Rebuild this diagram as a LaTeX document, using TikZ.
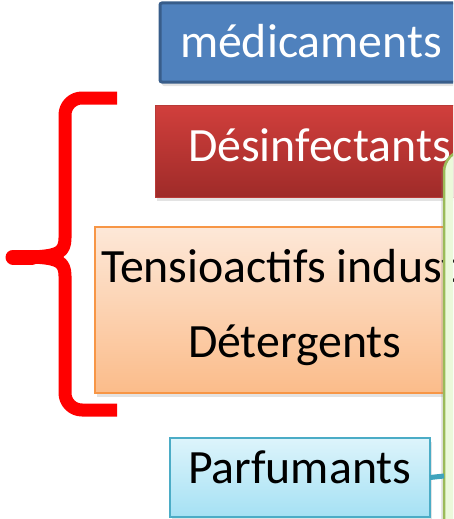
\documentclass[tikz,border=0pt]{standalone}
\usepackage{fontspec}
\setmainfont{Carlito}
\usetikzlibrary{shadows}
\definecolor{medblue}{HTML}{4F81BD}
\definecolor{medborder}{HTML}{385D8A}
\definecolor{redtop}{HTML}{D13F3C}
\definecolor{redbot}{HTML}{9F2B29}
\definecolor{redborder}{HTML}{B83A37}
\definecolor{orgtop}{HTML}{FDE8D8}
\definecolor{orgbot}{HTML}{FBBC8A}
\definecolor{orgborder}{HTML}{F79646}
\definecolor{cyantop}{HTML}{DDF4FB}
\definecolor{cyanbot}{HTML}{A5E1F4}
\definecolor{cyanborder}{HTML}{4BACC6}
\definecolor{connteal}{HTML}{3FA3BC}
\definecolor{grnfill}{HTML}{EBF9DA}
\definecolor{grnborder}{HTML}{9BBB59}
\begin{document}
\begin{tikzpicture}[x=1pt,y=-1pt,
  box/.style={inner sep=0pt, outer sep=0pt, anchor=north west},
  lbl/.style={anchor=base west, inner sep=0pt, outer sep=0pt, font=\fontsize{47.8}{56}\selectfont},
  softshadow/.style={drop shadow={opacity=0.22, shadow xshift=2pt, shadow yshift=-4pt}},
  bracestroke/.style={draw=red, line width=13pt, line cap=butt, line join=round},
  conn/.style={draw=connteal, line width=5pt}]
\useasboundingbox (0,0) rectangle (453,519);
\begin{scope}
\clip (0,0) rectangle (453,519);
% boxes
\node[box, draw=medborder, fill=medblue, line width=3pt, rounded corners=2pt,
      minimum width=320pt, minimum height=79pt, softshadow] (med) at (160,3) {};
\node[lbl, text=white] (medtxt) at (180,57) {médicaments};
\node[box, draw=redborder, top color=redtop, bottom color=redbot, line width=0.8pt,
      minimum width=320pt, minimum height=92pt, softshadow] (des) at (155,105) {};
\node[lbl, text=white] (destxt) at (188,161) {Désinfectants};
\node[box, draw=orgborder, top color=orgtop, bottom color=orgbot, line width=2pt,
      minimum width=350pt, minimum height=166pt, softshadow] (tens) at (95,227) {};
\node[lbl] (tenstxt) at (101,282) {Tensioactifs indust};
\node[lbl] (dettxt) at (188,357) {Détergents};
\node[box, draw=cyanborder, top color=cyantop, bottom color=cyanbot, line width=2pt,
      minimum width=260pt, minimum height=79pt, softshadow] (parf) at (170,438) {};
\node[lbl] (parftxt) at (188,483) {Parfumants};
% green callout
\node[box, draw=grnborder, fill=grnfill, line width=2.5pt, rounded corners=22pt,
      minimum width=120pt, minimum height=420pt,
      drop shadow={opacity=0.2, shadow xshift=-3pt, shadow yshift=-2pt}] (green) at (444,150) {};
\coordinate (gin) at (444,476);
\draw[conn] (parf.east) -- (gin);
% brace
\draw[bracestroke] (117,98) -- (82,98) to[out=180,in=90] (65,115) -- (65,238)
   .. controls (65,252) and (58,255) .. (40,256.5) -- (14,257);
\draw[bracestroke] (117,410) -- (82,410) to[out=180,in=-90] (65,393) -- (65,276)
   .. controls (65,262) and (58,259) .. (40,257.5) -- (14,257);
\draw[red, line width=15pt, line cap=round] (13,257) -- (32,257);
\end{scope}
\end{tikzpicture}
\end{document}
